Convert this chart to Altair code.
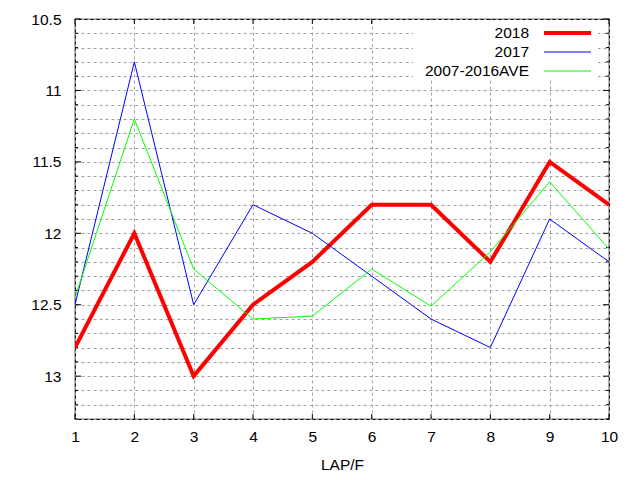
import altair as alt
import pandas as pd

laps = [1, 2, 3, 4, 5, 6, 7, 8, 9, 10]
s2018 = [12.8, 12.0, 13.0, 12.5, 12.2, 11.8, 11.8, 12.2, 11.5, 11.8]
s2017 = [12.5, 10.8, 12.5, 11.8, 12.0, 12.3, 12.6, 12.8, 11.9, 12.2]
s_ave = [12.45, 11.2, 12.25, 12.6, 12.58, 12.25, 12.51, 12.13, 11.64, 12.11]
series_names = ["2018", "2017", "2007-2016AVE"]
series_colors = ["#ff0000", "#0000ff", "#00ff00"]
series_widths = [4, 1, 1]

y_grid = [round(10.5 + 0.1 * i, 1) for i in range(29)]
y_major = [10.5, 11.0, 11.5, 12.0, 12.5, 13.0]
y_minor = [v for v in y_grid if v not in y_major]

W, H = 534, 400
FONT = "Liberation Sans"
FS = 15.5

rows = []
for name, vals in zip(series_names, [s2018, s2017, s_ave]):
    for lap, v in zip(laps, vals):
        rows.append({"lap": lap, "value": v, "series": name})
df = pd.DataFrame(rows)

xscale = alt.Scale(domain=[1, 10], nice=False, zero=False)
yscale = alt.Scale(domain=[10.5, 13.3], reverse=True, nice=False, zero=False)

xaxis = alt.Axis(values=laps, format="d", grid=True, gridDash=[3, 3], gridColor="#a0a0a0",
                 gridOpacity=1, domain=False, ticks=False, labelPadding=10,
                 labelFont=FONT, labelFontSize=FS, labelColor="black",
                 title="LAP/F", titleFont=FONT, titleFontSize=FS,
                 titleFontWeight="normal", titleColor="black", titlePadding=13,
                 labelFlush=False)
yaxis = alt.Axis(values=y_grid, grid=True, gridDash=[3, 3], gridColor="#a0a0a0",
                 gridOpacity=1, domain=False, ticks=False, labelPadding=14,
                 labelFont=FONT, labelFontSize=FS, labelColor="black",
                 labelExpr="abs(datum.value*2 - round(datum.value*2)) < 0.001 ? '' + round(datum.value*10)/10 : ''",
                 labelOverlap=False, labelFlush=False, title=None)

base = alt.Chart(df)
layers = []

# axes + grid via an invisible layer
layers.append(base.mark_point(opacity=0).encode(
    x=alt.X("lap:Q", scale=xscale, axis=xaxis, title="LAP/F"),
    y=alt.Y("value:Q", scale=yscale, axis=yaxis, title=None)))

# inward ticks
ymaj = pd.DataFrame({"value": y_major})
ymin = pd.DataFrame({"value": y_minor})
xt = pd.DataFrame({"lap": laps})
for d, ln in [(ymaj, 6), (ymin, 3)]:
    layers.append(alt.Chart(d).mark_rule(color="black", strokeWidth=1).encode(
        y=alt.Y("value:Q", scale=yscale, axis=yaxis, title=None), x=alt.value(0), x2=alt.value(ln)))
    layers.append(alt.Chart(d).mark_rule(color="black", strokeWidth=1).encode(
        y=alt.Y("value:Q", scale=yscale, axis=yaxis, title=None), x=alt.value(W), x2=alt.value(W - ln)))
layers.append(alt.Chart(xt).mark_rule(color="black", strokeWidth=1).encode(
    x=alt.X("lap:Q", scale=xscale, axis=xaxis, title="LAP/F"), y=alt.value(H), y2=alt.value(H - 5)))
layers.append(alt.Chart(xt).mark_rule(color="black", strokeWidth=1).encode(
    x=alt.X("lap:Q", scale=xscale, axis=xaxis, title="LAP/F"), y=alt.value(0), y2=alt.value(5)))

# series lines
for name, col, w in zip(series_names, series_colors, series_widths):
    layers.append(base.transform_filter(alt.datum.series == name).mark_line(
        color=col, strokeWidth=w, strokeJoin="miter", clip=True).encode(
        x=alt.X("lap:Q", scale=xscale, axis=xaxis, title="LAP/F"),
        y=alt.Y("value:Q", scale=yscale, axis=yaxis, title=None)))

# legend (manual, gnuplot style: label then sample)
layers.append(alt.Chart(pd.DataFrame({"a": [0]})).mark_rect(color="white").encode(
    x=alt.value(338), x2=alt.value(523), y=alt.value(1), y2=alt.value(61)))
for i, (name, col, w) in enumerate(zip(series_names, series_colors, series_widths)):
    yy = 14 + 19 * i
    layers.append(alt.Chart(pd.DataFrame({"a": [0]})).mark_text(
        align="right", baseline="middle", font=FONT, fontSize=FS, color="black").encode(
        x=alt.value(454), y=alt.value(yy), text=alt.value(name)))
    layers.append(alt.Chart(pd.DataFrame({"a": [0]})).mark_rule(
        color=col, strokeWidth=w).encode(
        x=alt.value(469), x2=alt.value(516), y=alt.value(yy)))

chart = alt.layer(*layers).properties(
    width=W, height=H,
    background="white",
    autosize=alt.AutoSizeParams(type="none"),
    padding={"left": 67, "top": 11, "right": 23, "bottom": 53},
).configure_view(stroke="black", strokeWidth=1.2)

chart.save("out.html", embed_options={"renderer": "svg", "actions": False})
